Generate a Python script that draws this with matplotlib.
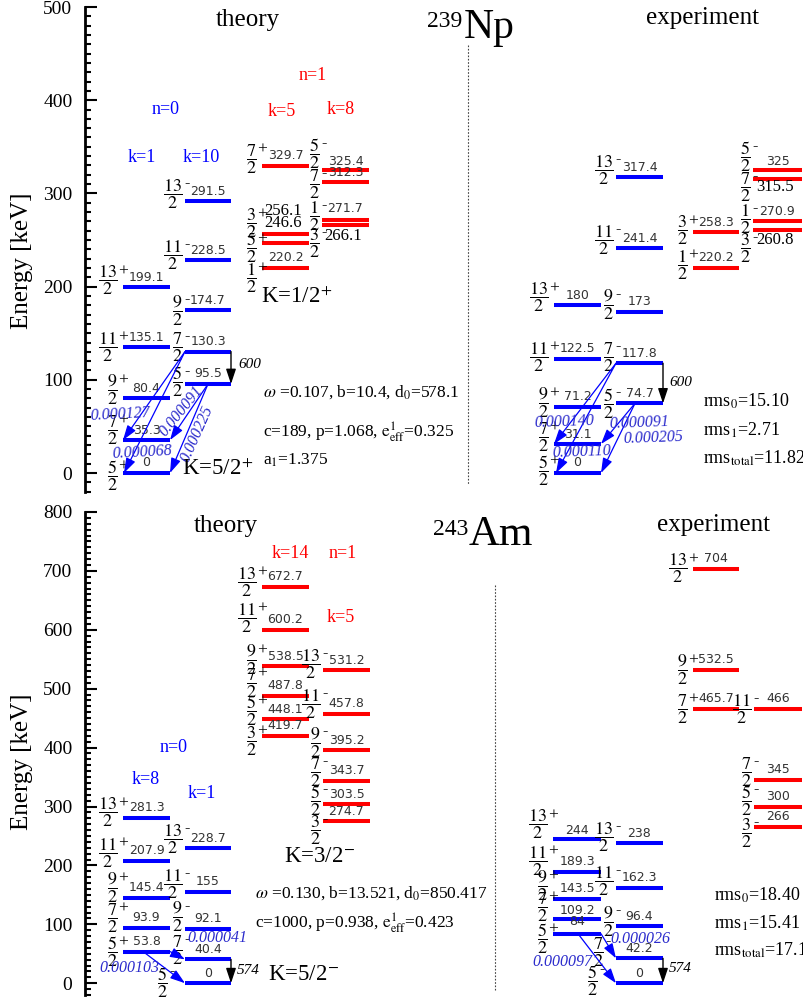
import matplotlib
matplotlib.use('Agg')
import matplotlib.pyplot as plt
import matplotlib.transforms as mtransforms
from matplotlib.ticker import MultipleLocator

plt.rcParams['font.family'] = ['Liberation Serif', 'DejaVu Serif']
plt.rcParams['mathtext.fontset'] = 'stix'

W, H = 804, 999
BLUE = '#0000ff'
RED = '#ff0000'
TBLUE = '#2b2bcc'

# ---------------- 239Np ----------------
# theory, n=0
np_th_k1_E = [0, 35.3, 80.4, 135.1, 199.1]
np_th_k1_J = ['5/2+', '7/2+', '9/2+', '11/2+', '13/2+']
np_th_k10_E = [95.5, 130.3, 174.7, 228.5, 291.5]
np_th_k10_J = ['5/2-', '7/2-', '9/2-', '11/2-', '13/2-']
# theory, n=1
np_th_k5_E = [220.2, 246.6, 256.1, 329.7]
np_th_k5_J = ['1/2+', '5/2+', '3/2+', '7/2+']
np_th_k8_E = [266.1, 271.7, 312.3, 325.4]
np_th_k8_J = ['3/2-', '1/2-', '7/2-', '5/2-']
# experiment
np_ex_pos_E = [0, 31.1, 71.2, 122.5, 180]
np_ex_pos_J = ['5/2+', '7/2+', '9/2+', '11/2+', '13/2+']
np_ex_neg_E = [74.7, 117.8, 173, 241.4, 317.4]
np_ex_neg_J = ['5/2-', '7/2-', '9/2-', '11/2-', '13/2-']
np_ex_rpos_E = [220.2, 258.3]
np_ex_rpos_J = ['1/2+', '3/2+']
np_ex_rneg_E = [260.8, 270.9, 315.5, 325]
np_ex_rneg_J = ['3/2-', '1/2-', '7/2-', '5/2-']
# transitions (from, to, value)
np_th_tr_from = [130.3, 130.3, 95.5, 95.5]
np_th_tr_to = [35.3, 0, 35.3, 0]
np_th_tr_val = ['0.000127', '0.000068', '0.000091', '0.000225']
np_ex_tr_from = [117.8, 117.8, 74.7, 74.7]
np_ex_tr_to = [31.1, 0, 31.1, 0]
np_ex_tr_val = ['0.000140', '0.000110', '0.000091', '0.000205']
np_th_gamma = [130.3, 95.5, '600']
np_ex_gamma = [117.8, 74.7, '600']
np_params = [r'$\omega$ =0.107, b=10.4, d$_0$=578.1',
             r'c=189, p=1.068, $\mathrm{e}^{1}_{\mathrm{eff}}$=0.325',
             r'a$_1$=1.375']
np_rms = [r'rms$_0$=15.10', r'rms$_1$=2.71', r'rms$_{\mathrm{total}}$=11.82']

# ---------------- 243Am ----------------
am_th_k8_E = [53.8, 93.9, 145.4, 207.9, 281.3]
am_th_k8_J = ['5/2+', '7/2+', '9/2+', '11/2+', '13/2+']
am_th_k1_E = [0, 40.4, 92.1, 155, 228.7]
am_th_k1_J = ['5/2-', '7/2-', '9/2-', '11/2-', '13/2-']
am_th_k14_E = [419.7, 448.1, 487.8, 538.5, 600.2, 672.7]
am_th_k14_J = ['3/2+', '5/2+', '7/2+', '9/2+', '11/2+', '13/2+']
am_th_k5_E = [274.7, 303.5, 343.7, 395.2, 457.8, 531.2]
am_th_k5_J = ['3/2-', '5/2-', '7/2-', '9/2-', '11/2-', '13/2-']
am_ex_pos_E = [84, 109.2, 143.5, 189.3, 244]
am_ex_pos_J = ['5/2+', '7/2+', '9/2+', '11/2+', '13/2+']
am_ex_neg_E = [0, 42.2, 96.4, 162.3, 238]
am_ex_neg_J = ['5/2-', '7/2-', '9/2-', '11/2-', '13/2-']
am_ex_rpos_E = [465.7, 532.5, 704]
am_ex_rpos_J = ['7/2+', '9/2+', '13/2+']
am_ex_rneg_E = [266, 300, 345, 466]
am_ex_rneg_J = ['3/2-', '5/2-', '7/2-', '11/2-']
am_th_tr_from = [53.8, 53.8]
am_th_tr_to = [40.4, 0]
am_th_tr_val = ['0.000041', '0.000103']
am_ex_tr_from = [84, 84]
am_ex_tr_to = [42.2, 0]
am_ex_tr_val = ['0.000026', '0.000097']
am_th_gamma = [40.4, 0, '574']
am_ex_gamma = [42.2, 0, '574']
am_params = [r'$\omega$ =0.130, b=13.521, d$_0$=850.417',
             r'c=1000, p=0.938, $\mathrm{e}^{1}_{\mathrm{eff}}$=0.423']
am_rms = [r'rms$_0$=18.40', r'rms$_1$=15.41', r'rms$_{\mathrm{total}}$=17.1']


fig = plt.figure(figsize=(W / 100, H / 100), dpi=100)
PX = mtransforms.Affine2D().scale(1 / W, -1 / H).translate(0, 1) + fig.transFigure


def make_axes(top_px, ymin, ymax, scale):
    h = (ymax - ymin) * scale
    ax = fig.add_axes([85 / W, 1 - (top_px + h) / H, (W - 85) / W, h / H])
    ax.set_xlim(85, W)
    ax.set_ylim(ymin, ymax)
    for s in ['top', 'right', 'bottom']:
        ax.spines[s].set_visible(False)
    ax.spines['left'].set_linewidth(2)
    ax.set_xticks([])
    ax.yaxis.set_major_locator(MultipleLocator(100))
    ax.yaxis.set_minor_locator(MultipleLocator(10))
    ax.tick_params(axis='y', which='major', direction='in', length=8.5, width=1.5,
                   labelsize=14, pad=9)
    ax.tick_params(axis='y', which='minor', direction='in', length=4.3, width=1.5)
    ax.patch.set_visible(False)
    return ax


def band(ax, x0, x1, color, E, J, jdy, edy=None, serif=(), jdx=None):
    for i, (e, j) in enumerate(zip(E, J)):
        ax.plot([x0, x1], [e, e], color=color, lw=2.9, solid_capstyle='butt')
        dx = jdx[i] if jdx else 0
        num, rest = j.split('/')
        den, par = rest[:-1], rest[-1]
        # stacked fraction, then the parity sign at its upper right
        fx = -5 if par == '+' else -2
        ax.annotate(r'$\dfrac{%s}{%s}$' % (num, den), xy=(x0, e),
                    xytext=(fx + dx, jdy[i]), textcoords='offset pixels',
                    ha='right', va='center', fontsize=13)
        if par == '+':
            ax.annotate('+', xy=(x0, e), xytext=(0 + dx, jdy[i] + 9),
                        textcoords='offset pixels', ha='center', va='center',
                        fontsize=12.5)
        else:
            ax.annotate('-', xy=(x0, e), xytext=(2 + dx, jdy[i] + 11),
                        textcoords='offset pixels', ha='center', va='center',
                        fontsize=11.5)
        dy = edy[i] if edy else 10
        if e in serif:
            ax.annotate('%g' % e, xy=((x0 + x1) / 2, e), xytext=(-2, dy),
                        textcoords='offset pixels', ha='center', va='center',
                        fontsize=12, color='black')
        else:
            ax.annotate('%g' % e, xy=((x0 + x1) / 2, e), xytext=(0, dy),
                        textcoords='offset pixels', ha='center', va='center',
                        fontsize=9, family='DejaVu Sans', color='#333333')


def arrow(ax, xa, ea, xb, eb, color, lw):
    ax.annotate('', xy=(xb, eb), xytext=(xa, ea),
                arrowprops=dict(arrowstyle='-|>,head_length=0.9,head_width=0.3',
                                color=color, lw=lw, shrinkA=0, shrinkB=0))


def ptext(x, y, s, **kw):
    kw.setdefault('ha', 'center')
    kw.setdefault('va', 'center')
    fig.text(x, y, s, transform=PX, **kw)


# ================= top panel: 239Np =================
ax1 = make_axes(7, -20, 500, 0.932)
band(ax1, 123, 170, BLUE, np_th_k1_E, np_th_k1_J, [-3, 10, 8, 0, 7])
band(ax1, 185, 231, BLUE, np_th_k10_E, np_th_k10_J, [2, 4, 0, 5, 7])
band(ax1, 262, 309, RED, np_th_k5_E, np_th_k5_J, [-10, -5, 11, 7],
     edy=[10, 20, 23, 10], serif=(246.6, 256.1))
band(ax1, 322, 369, RED, np_th_k8_E, np_th_k8_J, [-18, 4, -2, 16],
     edy=[-11, 11, 9, 8], serif=(266.1,))
band(ax1, 554, 601, BLUE, np_ex_pos_E, np_ex_pos_J, [2, 7, 4, 2, 8])
band(ax1, 616, 663, BLUE, np_ex_neg_E, np_ex_neg_J, [0, 6, 7, 8, 7])
band(ax1, 693, 739, RED, np_ex_rpos_E, np_ex_rpos_J, [3, 2])
band(ax1, 753, 802, RED, np_ex_rneg_E, np_ex_rneg_J, [-18, 1, -8, 13],
     edy=[-10, 9, -8, 9], serif=(260.8, 315.5))

# transitions (x anchors are layout)
th_x = [(185, 123), (185, 124), (208, 170), (208, 170)]
for (xa, xb), ea, eb in zip(th_x, np_th_tr_from, np_th_tr_to):
    arrow(ax1, xa, ea, xb, eb, BLUE, 0.9)
ex_x = [(616, 554), (616, 556), (635, 601), (635, 601)]
for (xa, xb), ea, eb in zip(ex_x, np_ex_tr_from, np_ex_tr_to):
    arrow(ax1, xa, ea, xb, eb, BLUE, 0.9)
arrow(ax1, 231, np_th_gamma[0], 231, np_th_gamma[1], 'black', 1)
arrow(ax1, 663, np_ex_gamma[0], 663, np_ex_gamma[1], 'black', 1)

tlab = dict(color=TBLUE, style='italic', fontsize=11.5)
for (x, y, r), s in zip([(120, 414, 3), (142, 452, 3), (181, 411, 51), (197, 434, 66)],
                        np_th_tr_val):
    ptext(x, y, s, rotation=r, **tlab)
for (x, y, r), s in zip([(564, 422, 2), (582, 452, 2), (639, 423, 2), (653, 438, 2)],
                        np_ex_tr_val):
    ptext(x, y, s, rotation=r, **tlab)
ptext(250, 365, np_th_gamma[2], style='italic', fontsize=11)
ptext(681, 382, np_ex_gamma[2], style='italic', fontsize=11)

ax1.plot([468, 468], [459, -13], color='#444444', lw=0.8, ls=(0, (1.5, 1.5)))

ptext(248, 20, 'theory', fontsize=18)
ptext(703, 18, 'experiment', fontsize=18)
ptext(462, 27, '239', fontsize=17, ha='right', va='baseline')
ptext(464, 38, 'Np', fontsize=30, ha='left', va='baseline')
ptext(166, 110, 'n=0', color=BLUE, fontsize=13)
ptext(142, 157, 'k=1', color=BLUE, fontsize=13)
ptext(201, 157, 'k=10', color=BLUE, fontsize=13)
ptext(313, 76, 'n=1', color=RED, fontsize=13)
ptext(282, 111, 'k=5', color=RED, fontsize=13)
ptext(341, 109, 'k=8', color=RED, fontsize=13)
ptext(297, 297, r'K=1/2$^{+}$', fontsize=16.5)
ptext(218, 469, r'K=5/2$^{+}$', fontsize=16.5)
for y, s in zip([392, 432, 460], np_params):
    ptext(263, y, s, ha='left', fontsize=12.5)
for y, s in zip([401, 430, 458], np_rms):
    ptext(703, y, s, ha='left', fontsize=13)
ptext(22, 261, 'Energy [keV]', rotation=90, fontsize=18)

# ================= bottom panel: 243Am =================
ax2 = make_axes(512, -20, 800, 0.589)
band(ax2, 123, 170, BLUE, am_th_k8_E, am_th_k8_J, [0, 10, 10, 8, 5])
band(ax2, 185, 231, BLUE, am_th_k1_E, am_th_k1_J, [1, 9, 12, 8, 9],
     jdx=[-15, 0, 0, 0, 0])
band(ax2, 262, 309, RED, am_th_k14_E, am_th_k14_J, [-5, 9, 13, 6, 12, 5])
band(ax2, 323, 370, RED, am_th_k5_E, am_th_k5_J, [-9, 4, 9, 8, 9, 6])
band(ax2, 553, 601, BLUE, am_ex_pos_E, am_ex_pos_J, [-5, 12, 13, 11, 15],
     edy=[12, 8, 10, 10, 9])
band(ax2, 616, 663, BLUE, am_ex_neg_E, am_ex_neg_J, [3, 6, 5, 6, 6],
     jdx=[-16, -10, 0, 0, 0])
band(ax2, 693, 739, RED, am_ex_rpos_E, am_ex_rpos_J, [0, 0, 0])
band(ax2, 754, 802, RED, am_ex_rneg_E, am_ex_rneg_J, [-7, 6, 8, 0])

th_x = [(170, 185), (143, 185)]
for (xa, xb), ea, eb in zip(th_x, am_th_tr_from, am_th_tr_to):
    arrow(ax2, xa, ea, xb, eb, BLUE, 0.9)
ex_x = [(601, 616), (578, 616)]
for (xa, xb), ea, eb in zip(ex_x, am_ex_tr_from, am_ex_tr_to):
    arrow(ax2, xa, ea, xb, eb, BLUE, 0.9)
arrow(ax2, 231, am_th_gamma[0], 231, am_th_gamma[1], 'black', 1)
arrow(ax2, 663, am_ex_gamma[0], 663, am_ex_gamma[1], 'black', 1)

for (x, y), s in zip([(217, 938), (129, 968)], am_th_tr_val):
    ptext(x, y, s, **tlab)
for (x, y), s in zip([(640, 939), (562, 962)], am_ex_tr_val):
    ptext(x, y, s, **tlab)
ptext(248, 970, am_th_gamma[2], style='italic', fontsize=11)
ptext(680, 968, am_ex_gamma[2], style='italic', fontsize=11)

ax2.plot([495, 495], [676, -12], color='#444444', lw=0.8, ls=(0, (1.5, 1.5)))

ptext(226, 526, 'theory', fontsize=18)
ptext(714, 525, 'experiment', fontsize=18)
ptext(468, 535, '243', fontsize=17, ha='right', va='baseline')
ptext(469, 545, 'Am', fontsize=31, ha='left', va='baseline')
ptext(174, 748, 'n=0', color=BLUE, fontsize=13)
ptext(146, 780, 'k=8', color=BLUE, fontsize=13)
ptext(202, 793, 'k=1', color=BLUE, fontsize=13)
ptext(290, 553, 'k=14', color=RED, fontsize=13)
ptext(343, 553, 'n=1', color=RED, fontsize=13)
ptext(341, 618, 'k=5', color=RED, fontsize=13)
ptext(319, 857, r'K=3/2$^{-}$', fontsize=16.5)
ptext(303, 974, r'K=5/2$^{-}$', fontsize=16.5)
for y, s in zip([893, 923], am_params):
    ptext(255, y, s, ha='left', fontsize=12.5)
for y, s in zip([895, 923, 950], am_rms):
    ptext(714, y, s, ha='left', fontsize=13)
ptext(22, 762, 'Energy [keV]', rotation=90, fontsize=18)

fig.savefig('out.png', dpi=100)
